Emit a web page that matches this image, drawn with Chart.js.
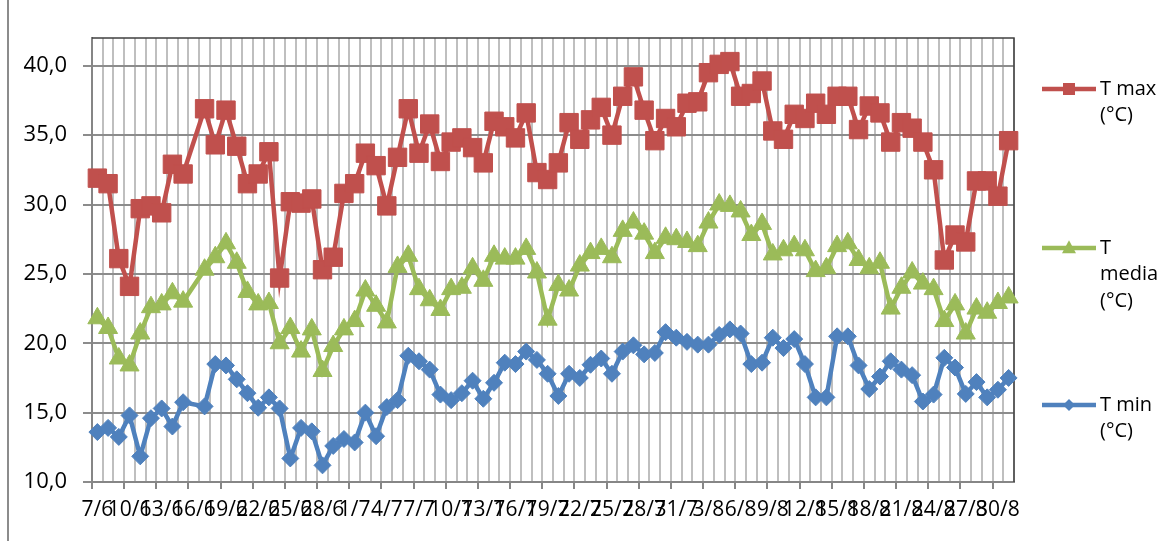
<!DOCTYPE html>
<html>
<head>
<meta charset="utf-8">
<script src="https://cdn.jsdelivr.net/npm/chart.js@4.4.0/dist/chart.umd.min.js"></script>
<style>
  html, body { margin: 0; padding: 0; background: #fff; }
  #wrap { position: relative; width: 1167px; height: 541px; }
  #frame { position: absolute; left: 7px; top: 0; width: 2px; height: 541px; background: #8c8c8c; }
</style>
</head>
<body>
<div id="wrap">
  <canvas id="tempchart"></canvas>
  <div id="frame"></div>
</div>
<script>
// giorni (7/6 - 31/8)
const days = [
  '7/6', '8/6', '9/6', '10/6', '11/6', '12/6', '13/6', '14/6', '15/6', '16/6', '17/6', '18/6',
  '19/6', '20/6', '21/6', '22/6', '23/6', '24/6', '25/6', '26/6', '27/6', '28/6', '29/6', '30/6',
  '1/7', '2/7', '3/7', '4/7', '5/7', '6/7', '7/7', '8/7', '9/7', '10/7', '11/7', '12/7',
  '13/7', '14/7', '15/7', '16/7', '17/7', '18/7', '19/7', '20/7', '21/7', '22/7', '23/7', '24/7',
  '25/7', '26/7', '27/7', '28/7', '29/7', '30/7', '31/7',
  '1/8', '2/8', '3/8', '4/8', '5/8', '6/8', '7/8', '8/8', '9/8', '10/8', '11/8', '12/8',
  '13/8', '14/8', '15/8', '16/8', '17/8', '18/8', '19/8', '20/8', '21/8', '22/8', '23/8', '24/8',
  '25/8', '26/8', '27/8', '28/8', '29/8', '30/8', '31/8'
];

const tMax = [
  31.9, 31.5, 26.1, 24.1, 29.7, 29.9, 29.4, 32.9, 32.2, null, 36.9, 34.3,
  36.8, 34.2, 31.5, 32.2, 33.8, 24.7, 30.2, 30.1, 30.4, 25.3, 26.2, 30.8,
  31.5, 33.7, 32.8, 29.9, 33.4, 36.9, 33.7, 35.8, 33.1, 34.5, 34.8, 34.1,
  33.0, 36.0, 35.6, 34.8, 36.6, 32.3, 31.8, 33.0, 35.9, 34.7, 36.1, 37.0,
  35.0, 37.8, 39.2, 36.8, 34.6, 36.2, 35.6,
  37.3, 37.4, 39.5, 40.1, 40.3, 37.8, 38.0, 38.9, 35.3, 34.7, 36.5, 36.2,
  37.3, 36.5, 37.8, 37.8, 35.4, 37.1, 36.6, 34.5, 35.9, 35.5, 34.5, 32.5,
  26.0, 27.8, 27.3, 31.7, 31.7, 30.6, 34.6
];

const tMedia = [
  21.8, 21.1, 18.9, 18.4, 20.7, 22.6, 22.8, 23.6, 23.0, null, 25.3, 26.2,
  27.2, 25.8, 23.7, 22.8, 22.9, 20.0, 21.1, 19.4, 21.0, 18.0, 19.8, 21.0,
  21.6, 23.8, 22.7, 21.5, 25.5, 26.3, 23.9, 23.1, 22.4, 23.9, 24.0, 25.4,
  24.5, 26.3, 26.1, 26.1, 26.8, 25.1, 21.7, 24.2, 23.8, 25.6, 26.5, 26.8,
  26.2, 28.1, 28.7, 27.9, 26.5, 27.6, 27.5,
  27.3, 27.0, 28.7, 30.0, 29.9, 29.5, 27.8, 28.6, 26.4, 26.7, 27.0, 26.7,
  25.2, 25.4, 27.0, 27.2, 26.0, 25.4, 25.8, 22.5, 24.0, 25.1, 24.3, 23.9,
  21.6, 22.8, 20.7, 22.5, 22.2, 22.9, 23.3
];

const tMin = [
  13.6, 13.9, 13.25, 14.8, 11.85, 14.6, 15.3, 14.0, 15.75, null, 15.45, 18.5,
  18.4, 17.4, 16.4, 15.35, 16.1, 15.3, 11.7, 13.9, 13.65, 11.2, 12.6, 13.1,
  12.85, 15.0, 13.3, 15.4, 15.9, 19.1, 18.7, 18.1, 16.3, 15.9, 16.4, 17.3,
  16.0, 17.15, 18.6, 18.5, 19.4, 18.8, 17.8, 16.2, 17.8, 17.5, 18.45, 18.9,
  17.8, 19.4, 19.85, 19.2, 19.3, 20.8, 20.4,
  20.1, 19.9, 19.9, 20.6, 21.0, 20.7, 18.5, 18.6, 20.4, 19.65, 20.3, 18.5,
  16.1, 16.1, 20.5, 20.5, 18.4, 16.7, 17.6, 18.7, 18.1, 17.7, 15.8, 16.3,
  18.95, 18.25, 16.35, 17.2, 16.1, 16.65, 17.5
];

const yTicks = [10, 15, 20, 25, 30, 35, 40];
const labelEvery = 3;

const FONT = "'Open Sans', 'Liberation Sans', sans-serif";

// bordo scuro in alto e a destra dell'area del grafico
const plotBorder = {
    id: 'plotBorder',
    beforeDatasetsDraw(chart) {
        const { ctx, chartArea: { left, top, right, bottom } } = chart;
        ctx.save();
        ctx.strokeStyle = '#404040';
        ctx.lineWidth = 1.5;
        ctx.beginPath();
        ctx.moveTo(left, top);
        ctx.lineTo(right, top);
        ctx.lineTo(right, bottom);
        ctx.stroke();
        ctx.restore();
    }
};

function drawMarker(ctx, style, x, y, r) {
    ctx.beginPath();
    if (style === 'rect') {
        ctx.rect(x - r, y - r, 2 * r, 2 * r);
    } else if (style === 'triangle') {
        ctx.moveTo(x, y - r * 1.1);
        ctx.lineTo(x + r, y + r * 0.75);
        ctx.lineTo(x - r, y + r * 0.75);
        ctx.closePath();
    } else {
        ctx.moveTo(x, y - r);
        ctx.lineTo(x + r, y);
        ctx.lineTo(x, y + r);
        ctx.lineTo(x - r, y);
        ctx.closePath();
    }
    ctx.fill();
}

// legenda a destra, con testo a capo come in Excel
const sideLegend = {
    id: 'sideLegend',
    afterDraw(chart) {
        const ctx = chart.ctx;
        const rows = [89, 248, 405];
        const markerSize = { rect: 6, triangle: 7, rectRot: 6 };
        ctx.save();
        ctx.font = '20px ' + FONT;
        ctx.textBaseline = 'middle';
        chart.data.datasets.forEach(function (ds, i) {
            const y = rows[i];
            ctx.strokeStyle = ds.borderColor;
            ctx.fillStyle = ds.borderColor;
            ctx.lineWidth = 4.5;
            ctx.beginPath();
            ctx.moveTo(1042, y);
            ctx.lineTo(1096, y);
            ctx.stroke();
            drawMarker(ctx, ds.pointStyle, 1069, y, markerSize[ds.pointStyle]);

            // a capo
            const words = ds.label.split(' ');
            const lines = [];
            let cur = '';
            words.forEach(function (w) {
                const t = cur ? cur + ' ' + w : w;
                if (cur && ctx.measureText(t).width > 64) {
                    lines.push(cur);
                    cur = w;
                } else {
                    cur = t;
                }
            });
            lines.push(cur);
            ctx.fillStyle = '#000';
            lines.forEach(function (l, k) {
                ctx.fillText(l, 1100, y + k * 26.5);
            });
        });
        ctx.restore();
    }
};

new Chart(document.getElementById('tempchart'), {
    type: 'line',
    data: {
        labels: days,
        datasets: [{
            label: 'T max (°C)',
            data: tMax,
            borderColor: '#C0504D',
            backgroundColor: '#C0504D',
            pointStyle: 'rect',
            pointRadius: 13,
            pointBorderWidth: 1,
            borderWidth: 4.5,
            spanGaps: true,
            order: 3
        },
        {
            label: 'T media (°C)',
            data: tMedia,
            borderColor: '#9BBB59',
            backgroundColor: '#9BBB59',
            pointStyle: 'triangle',
            pointRadius: 11,
            pointBorderWidth: 1,
            borderWidth: 4.5,
            spanGaps: true,
            order: 2
        },
        {
            label: 'T min (°C)',
            data: tMin,
            borderColor: '#4F81BD',
            backgroundColor: '#4F81BD',
            pointStyle: 'rectRot',
            pointRadius: 8.5,
            pointBorderWidth: 1,
            borderWidth: 4.5,
            spanGaps: true,
            order: 1
        }]
    },
    options: {
        responsive: true,
        maintainAspectRatio: false,
        animation: false,
        layout: {
            padding: { left: 0, top: 38, right: 153, bottom: 0 }
        },
        plugins: {
            legend: { display: false },
            tooltip: { enabled: false }
        },
        scales: {
            x: {
                offset: true,
                grid: {
                    offset: true,
                    color: '#bfbfbf',
                    lineWidth: 2,
                    tickLength: 7,
                    tickColor: function (c) {
                        return c.index % labelEvery === 0 ? '#868686' : 'rgba(0,0,0,0)';
                    }
                },
                border: { color: '#868686', width: 2 },
                ticks: {
                    autoSkip: false,
                    maxRotation: 0,
                    minRotation: 0,
                    padding: 8,
                    color: '#000',
                    font: { family: FONT, size: 21 },
                    callback: function (v, i) {
                        return i % labelEvery === 0 ? this.getLabelForValue(v) : '';
                    }
                },
                afterFit: function (s) { s.height = 59; }
            },
            y: {
                min: 10,
                max: 42,
                grid: {
                    color: '#8c8c8c',
                    lineWidth: 2,
                    tickLength: 9
                },
                border: { color: '#868686', width: 2 },
                afterBuildTicks: function (s) {
                    s.ticks = yTicks.map(function (v) { return { value: v }; });
                },
                ticks: {
                    padding: 16,
                    color: '#000',
                    font: { family: FONT, size: 22 },
                    callback: function (v) {
                        return v.toFixed(1).replace('.', ',');
                    }
                },
                afterFit: function (s) { s.width = 92; }
            }
        }
    },
    plugins: [plotBorder, sideLegend]
});
</script>
</body>
</html>
